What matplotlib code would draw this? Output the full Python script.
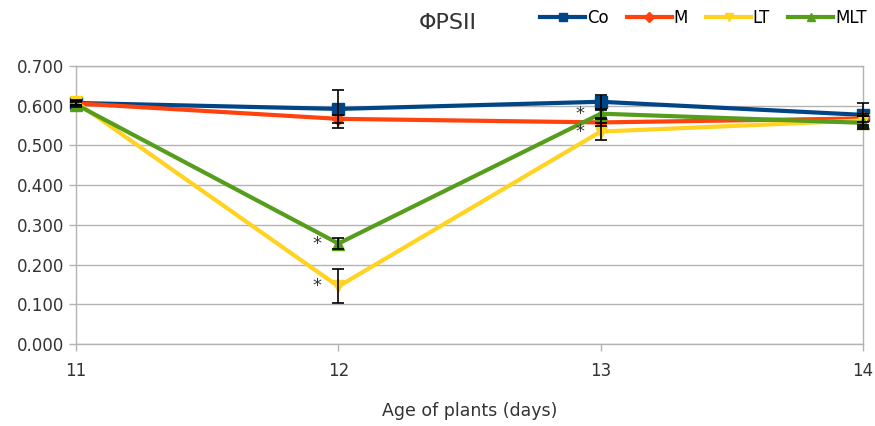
import matplotlib
matplotlib.use("Agg")
import matplotlib.pyplot as plt

days = [11, 12, 13, 14]

co = [0.607, 0.592, 0.610, 0.577]
m = [0.606, 0.567, 0.558, 0.568]
lt = [0.609, 0.145, 0.535, 0.563]
mlt = [0.603, 0.253, 0.580, 0.557]

co_err = [0.006, 0.048, 0.017, 0.030]
m_err = [0.005, 0.010, 0.008, 0.010]
lt_err = [0.006, 0.043, 0.021, 0.012]
mlt_err = [0.006, 0.014, 0.010, 0.016]

# significance marks: (day, value) placed just left of the point
star_days = [12, 12, 13, 13]
star_values = [0.253, 0.145, 0.580, 0.535]

series = [
    ("Co", co, co_err, "#004586", "s", 8),
    ("M", m, m_err, "#ff420e", "D", 6),
    ("LT", lt, lt_err, "#ffd320", "v", 8),
    ("MLT", mlt, mlt_err, "#579d1c", "^", 8),
]

fig = plt.figure(figsize=(8.75, 4.26), dpi=100)
ax = fig.add_axes([0.087, 0.1925, 0.8993, 0.6525])

handles = []
for name, vals, errs, color, marker, ms in series:
    (line,) = ax.plot(days, vals, color=color, lw=3, marker=marker, ms=ms,
                      label=name, clip_on=False, zorder=3)
    ax.errorbar(days, vals, yerr=errs, fmt="none", ecolor="black",
                elinewidth=1.2, capsize=4, capthick=1.2, clip_on=False, zorder=4)
    handles.append(line)

for d, v in zip(star_days, star_values):
    ax.text(d - 0.08, v, "*", fontsize=13, color="#333333",
            ha="center", va="center", zorder=5)

ax.set_xlim(11, 14)
ax.set_ylim(0, 0.7)
ax.set_xticks(days)
ax.set_yticks([i / 10 for i in range(8)])
ax.set_yticklabels([f"{i / 10:.3f}" for i in range(8)])
ax.yaxis.grid(True, color="#b3b3b3", lw=1)
ax.set_axisbelow(True)
for side in ax.spines.values():
    side.set_color("#b3b3b3")
    side.set_linewidth(1)
ax.tick_params(axis="both", colors="#b3b3b3", labelcolor="#333333",
               labelsize=12, length=5, width=1)
ax.tick_params(axis="x", pad=8)

ax.set_xlabel("Age of plants (days)", fontsize=12.5, color="#333333", labelpad=16)
fig.text(0.512, 0.945, "ΦPSII", fontsize=16, color="#333333",
         ha="center", va="center")

leg_handles = []
for h in handles:
    lh, = ax.plot([], [], color=h.get_color(), lw=3, marker=h.get_marker(),
                  ms=h.get_markersize() * 0.8)
    leg_handles.append(lh)

fig.legend(handles=leg_handles, labels=[s[0] for s in series],
           loc="center right", bbox_to_anchor=(0.998, 0.957),
           ncol=4, frameon=False, fontsize=12, handlelength=2.7,
           handletextpad=0.1, columnspacing=1.1, borderaxespad=0)

fig.savefig("out.png", dpi=100)
